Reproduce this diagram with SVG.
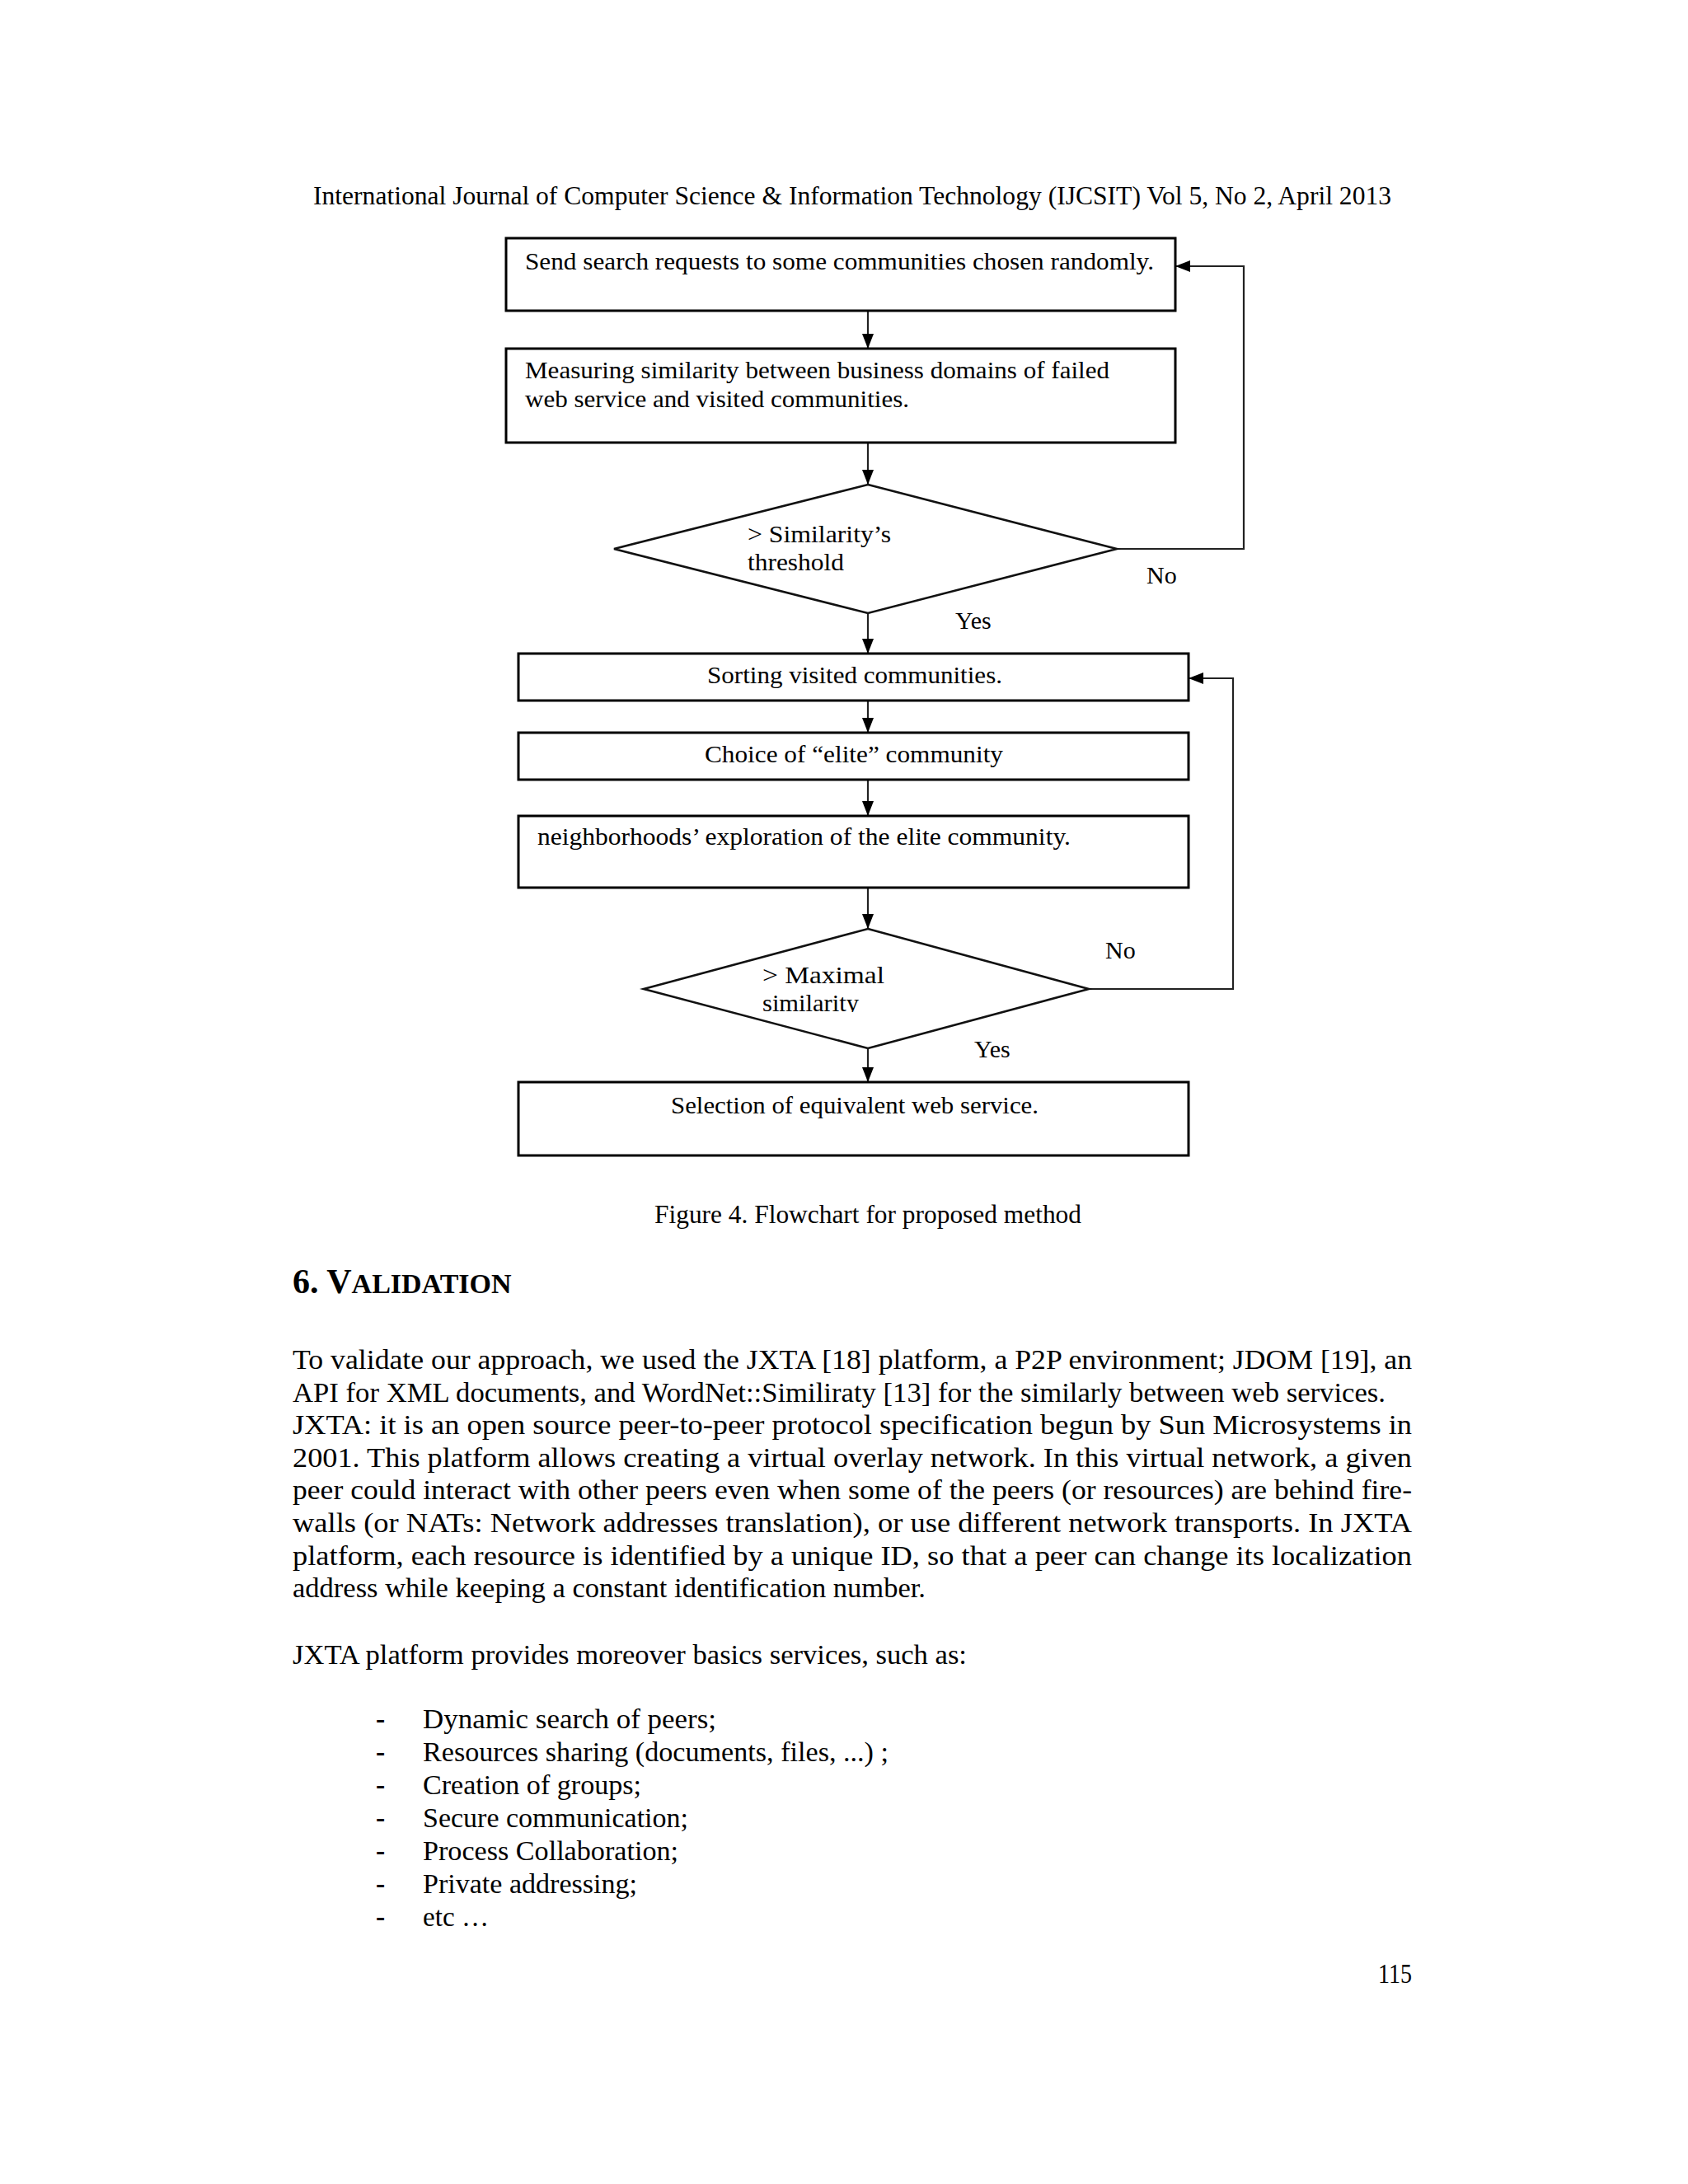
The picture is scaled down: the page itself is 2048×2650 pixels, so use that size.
<svg xmlns="http://www.w3.org/2000/svg" width="2048" height="2650" viewBox="0 0 2048 2650" xml:space="preserve">
<style>
.t{font-family:"Liberation Serif","Times New Roman",serif;fill:#000}
.fc{font-size:30px}
.body{font-size:33.5px}
.box{fill:#fff;stroke:#000;stroke-width:3}
.dia{fill:#fff;stroke:#111;stroke-width:2.6}
.con{fill:none;stroke:#222;stroke-width:2.2}
</style>
<defs>
<marker id="arr" viewBox="0 0 18 14" markerWidth="18" markerHeight="14" refX="18" refY="7" orient="auto" markerUnits="userSpaceOnUse">
<path d="M0,0 L18,7 L0,14 z" fill="#000"/>
</marker>
<clipPath id="clipSim"><rect x="900" y="1195" width="220" height="33"/></clipPath>
</defs>
<rect x="0" y="0" width="2048" height="2650" fill="#fff"/>

<text class="t" x="380" y="248" font-size="31" textLength="1308" lengthAdjust="spacingAndGlyphs">International Journal of Computer Science &amp; Information Technology (IJCSIT) Vol 5, No 2, April 2013</text>

<g id="connectors">
<path class="con" d="M1053,377 V423" marker-end="url(#arr)"/>
<path class="con" d="M1053,537 V588" marker-end="url(#arr)"/>
<path class="con" d="M1053,744 V793" marker-end="url(#arr)"/>
<path class="con" d="M1053,850 V889" marker-end="url(#arr)"/>
<path class="con" d="M1053,946 V990" marker-end="url(#arr)"/>
<path class="con" d="M1053,1077 V1127" marker-end="url(#arr)"/>
<path class="con" d="M1053,1272 V1313" marker-end="url(#arr)"/>
<path class="con" d="M1355,666 H1509 V323 H1426" marker-end="url(#arr)"/>
<path class="con" d="M1321,1200 H1496 V823 H1442" marker-end="url(#arr)"/>
<text class="t fc" x="1391" y="708">No</text>
<text class="t fc" x="1159" y="763">Yes</text>
<text class="t fc" x="1341" y="1163">No</text>
<text class="t fc" x="1182" y="1283">Yes</text>
</g>

<g id="node-send">
<rect class="box" x="614" y="289" width="812" height="88"/>
<text class="t fc" x="637" y="327" textLength="763" lengthAdjust="spacingAndGlyphs">Send search requests to some communities chosen randomly.</text>
</g>

<g id="node-measure">
<rect class="box" x="614" y="423" width="812" height="114"/>
<text class="t fc" x="637" y="459" textLength="709" lengthAdjust="spacingAndGlyphs">Measuring similarity  between business domains of failed</text>
<text class="t fc" x="637" y="494" textLength="466" lengthAdjust="spacingAndGlyphs">web service  and visited communities.</text>
</g>

<g id="node-threshold">
<polygon class="dia" points="1053,588 1355,666 1053,744 745,666"/>
<text class="t fc" x="907" y="658" textLength="174" lengthAdjust="spacingAndGlyphs">&gt; Similarity’s</text>
<text class="t fc" x="907" y="692" textLength="117" lengthAdjust="spacingAndGlyphs">threshold</text>
</g>

<g id="node-sort">
<rect class="box" x="629" y="793" width="813" height="57"/>
<text class="t fc" x="858" y="829" textLength="358" lengthAdjust="spacingAndGlyphs">Sorting visited communities.</text>
</g>

<g id="node-choice">
<rect class="box" x="629" y="889" width="813" height="57"/>
<text class="t fc" x="855" y="925" textLength="362" lengthAdjust="spacingAndGlyphs">Choice of “elite” community</text>
</g>

<g id="node-explore">
<rect class="box" x="629" y="990" width="813" height="87"/>
<text class="t fc" x="652" y="1025" textLength="647" lengthAdjust="spacingAndGlyphs">neighborhoods’ exploration of the elite  community.</text>
</g>

<g id="node-maximal">
<polygon class="dia" points="1053,1127 1321,1200 1053,1272 781,1200"/>
<text class="t fc" x="925" y="1193" textLength="148" lengthAdjust="spacingAndGlyphs">&gt; Maximal</text>
<text class="t fc" x="925" y="1227" textLength="117" lengthAdjust="spacingAndGlyphs" clip-path="url(#clipSim)">similarity</text>
</g>

<g id="node-select">
<rect class="box" x="629" y="1313" width="813" height="89"/>
<text class="t fc" x="814" y="1351" textLength="446" lengthAdjust="spacingAndGlyphs">Selection of equivalent web service.</text>
</g>

<text class="t" x="794" y="1484" font-size="31" textLength="518" lengthAdjust="spacingAndGlyphs">Figure 4. Flowchart for proposed method</text>

<text class="t" x="355" y="1569" font-weight="bold" font-size="42">6. V<tspan font-size="34">ALIDATION</tspan></text>

<g class="t body">
<text x="355" y="1661" textLength="1358" lengthAdjust="spacingAndGlyphs">To validate our approach, we used the JXTA [18] platform, a P2P environment; JDOM [19], an</text>
<text x="355" y="1700.6" textLength="1326" lengthAdjust="spacingAndGlyphs">API for XML documents, and WordNet::Similiraty [13] for the similarly between web services.</text>
<text x="355" y="1740.2" textLength="1358" lengthAdjust="spacingAndGlyphs">JXTA: it is an open source peer-to-peer protocol specification begun by Sun Microsystems in</text>
<text x="355" y="1779.8" textLength="1358" lengthAdjust="spacingAndGlyphs">2001. This platform allows creating a virtual overlay network. In this virtual network, a given</text>
<text x="355" y="1819.4" textLength="1358" lengthAdjust="spacingAndGlyphs">peer could interact with other peers even when some of the peers (or resources) are behind fire-</text>
<text x="355" y="1859" textLength="1358" lengthAdjust="spacingAndGlyphs">walls (or NATs: Network addresses translation), or use different network transports. In JXTA</text>
<text x="355" y="1898.6" textLength="1358" lengthAdjust="spacingAndGlyphs">platform, each resource is identified by a unique ID, so that a peer can change its localization</text>
<text x="355" y="1938.2" textLength="768" lengthAdjust="spacingAndGlyphs">address while keeping a constant identification number.</text>
<text x="355" y="2019" textLength="818" lengthAdjust="spacingAndGlyphs">JXTA platform provides moreover basics services, such as:</text>

<text x="456" y="2097" font-weight="bold">-</text>
<text x="513" y="2097" textLength="356" lengthAdjust="spacingAndGlyphs">Dynamic search  of peers;</text>
<text x="456" y="2137" font-weight="bold">-</text>
<text x="513" y="2137" textLength="565" lengthAdjust="spacingAndGlyphs">Resources sharing (documents, files, ...) ;</text>
<text x="456" y="2177" font-weight="bold">-</text>
<text x="513" y="2177" textLength="265" lengthAdjust="spacingAndGlyphs">Creation of groups;</text>
<text x="456" y="2217" font-weight="bold">-</text>
<text x="513" y="2217" textLength="322" lengthAdjust="spacingAndGlyphs">Secure communication;</text>
<text x="456" y="2257" font-weight="bold">-</text>
<text x="513" y="2257" textLength="310" lengthAdjust="spacingAndGlyphs">Process Collaboration;</text>
<text x="456" y="2297" font-weight="bold">-</text>
<text x="513" y="2297" textLength="260" lengthAdjust="spacingAndGlyphs">Private addressing;</text>
<text x="456" y="2337" font-weight="bold">-</text>
<text x="513" y="2337" textLength="80" lengthAdjust="spacingAndGlyphs">etc …</text>

<text x="1672" y="2406" textLength="41" lengthAdjust="spacingAndGlyphs">115</text>
</g>
</svg>
